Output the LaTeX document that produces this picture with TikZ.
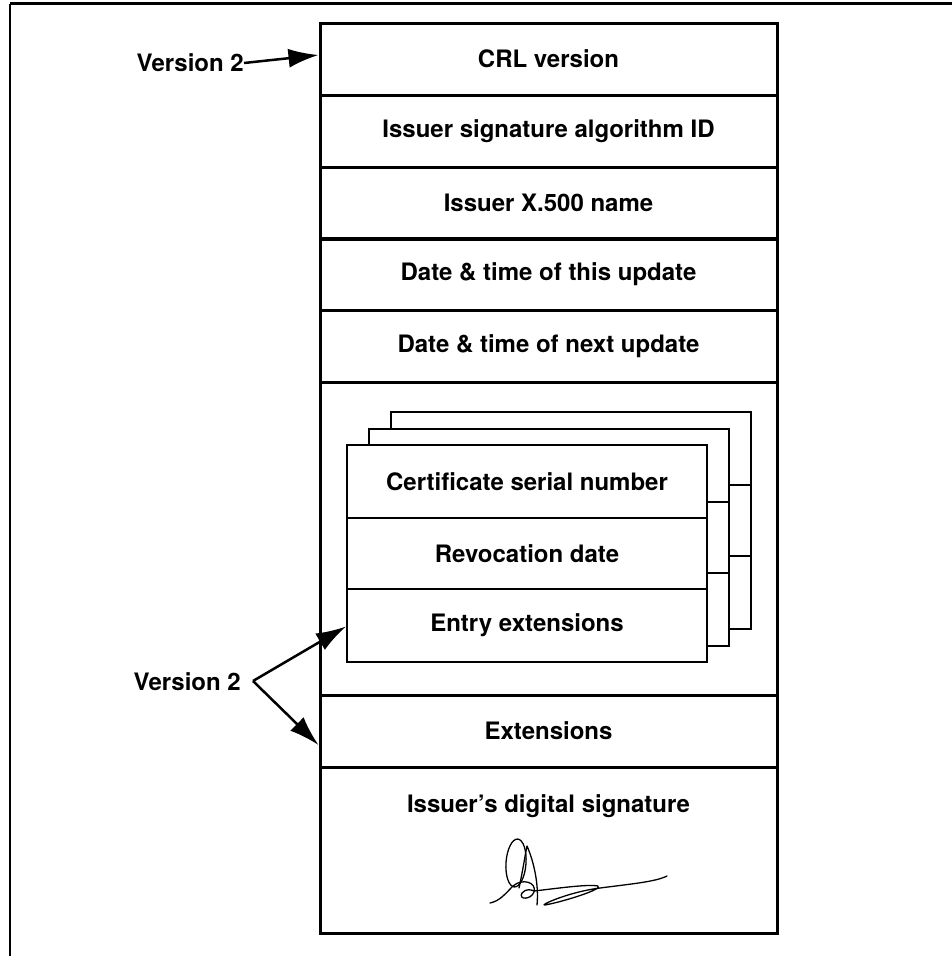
\documentclass[tikz,border=0pt]{standalone}
\usepackage{fontspec}
\setmainfont{TeX Gyre Heros}
\usetikzlibrary{arrows.meta,calc}
\begin{document}
\begin{tikzpicture}[x=1pt,y=-1pt,
  field/.style={draw,line width=3pt,minimum width=457pt,minimum height=72pt,
    inner sep=0pt,font=\fontsize{24}{28}\selectfont\bfseries},
  entry/.style={draw,fill=white,line width=2pt,minimum width=360pt,
    inner sep=0pt,font=\fontsize{24}{28}\selectfont\bfseries},
  lbl/.style={font=\fontsize{24}{28}\selectfont\bfseries,inner sep=0pt},
  side/.style={font=\fontsize{24}{28}\selectfont\bfseries,inner sep=0pt},
  ptr/.style={line width=2.5pt,-{Latex[length=30pt,width=19pt]}},
  frame/.style={line width=2.5pt},
  ink/.style={line width=1.3pt,line cap=round,line join=round}]
\useasboundingbox (0,0) rectangle (952,956);
% page frame
\draw[frame] (10,3.5) -- (952,3.5);
\draw[frame] (10,3.5) -- (10,956);

% CRL fields
\node[field] (crl)  at (548.5,59)  {CRL version};
\node[field] (alg)  at (548.5,131) {Issuer signature algorithm ID};
\node[field] (name) at (548.5,203) {Issuer X.500 name};
\node[field] (this) at (548.5,274.5) {Date \& time of this update};
\node[field] (next) at (548.5,346) {Date \& time of next update};
\node[field,minimum height=313pt] (list) at (548.5,538.5) {};
\node[field] (ext)  at (548.5,731) {Extensions};
\node[field,minimum height=166pt] (sig) at (548.5,850) {};
\node[lbl] (sigtxt) at (548.5,806) {Issuer’s digital signature};

% stacked revoked-certificate entries (back to front)
\foreach \dx/\dy/\p in {44/-33/c, 22/-16.5/b, 0/0/a}{
  \begin{scope}[shift={(\dx,\dy)}]
    \node[entry,minimum height=73pt] (\p1) at (527,481.5) {};
    \node[entry,minimum height=71pt] (\p2) at (527,553.5) {};
    \node[entry,minimum height=73pt] (\p3) at (527,625.5) {};
  \end{scope}
}
\node[lbl] at (a1) {Certificate serial number};
\node[lbl] at (a2) {Revocation date};
\node[lbl] at (a3) {Entry extensions};

% version labels and pointers
\node[side,anchor=east] (v1) at (244,63) {Version 2};
\draw[ptr] (v1.east) -- ([yshift=4pt]crl.west);
\node[side,anchor=east] (v2) at (241,682) {Version 2};
\coordinate (apex) at (253,681);
\draw[ptr] (apex) -- ([yshift=-1pt]a3.west);
\draw[ptr] (apex) -- ([yshift=-14pt]ext.west);

% handwritten signature
\draw[ink,rotate around={-4:(516,863)}] (516,863) ellipse [x radius=10, y radius=24];
\draw[ink] (519,888) .. controls (523,870) and (525,855) .. (527,846)
  .. controls (534,862) and (539,885) .. (537,905);
\draw[ink] (490,903) .. controls (500,901) and (506,893) .. (513,886)
  .. controls (522,878) and (537,882) .. (534,892)
  .. controls (531,900) and (518,900) .. (522,893)
  .. controls (526,888) and (532,890) .. (534,891);
\draw[ink] (534,891) .. controls (560,888) and (588,884) .. (598,886)
  .. controls (604,889) and (562,902) .. (545,905)
  .. controls (538,906) and (568,892) .. (600,888)
  .. controls (630,884) and (655,882) .. (667,876);
\end{tikzpicture}
\end{document}
